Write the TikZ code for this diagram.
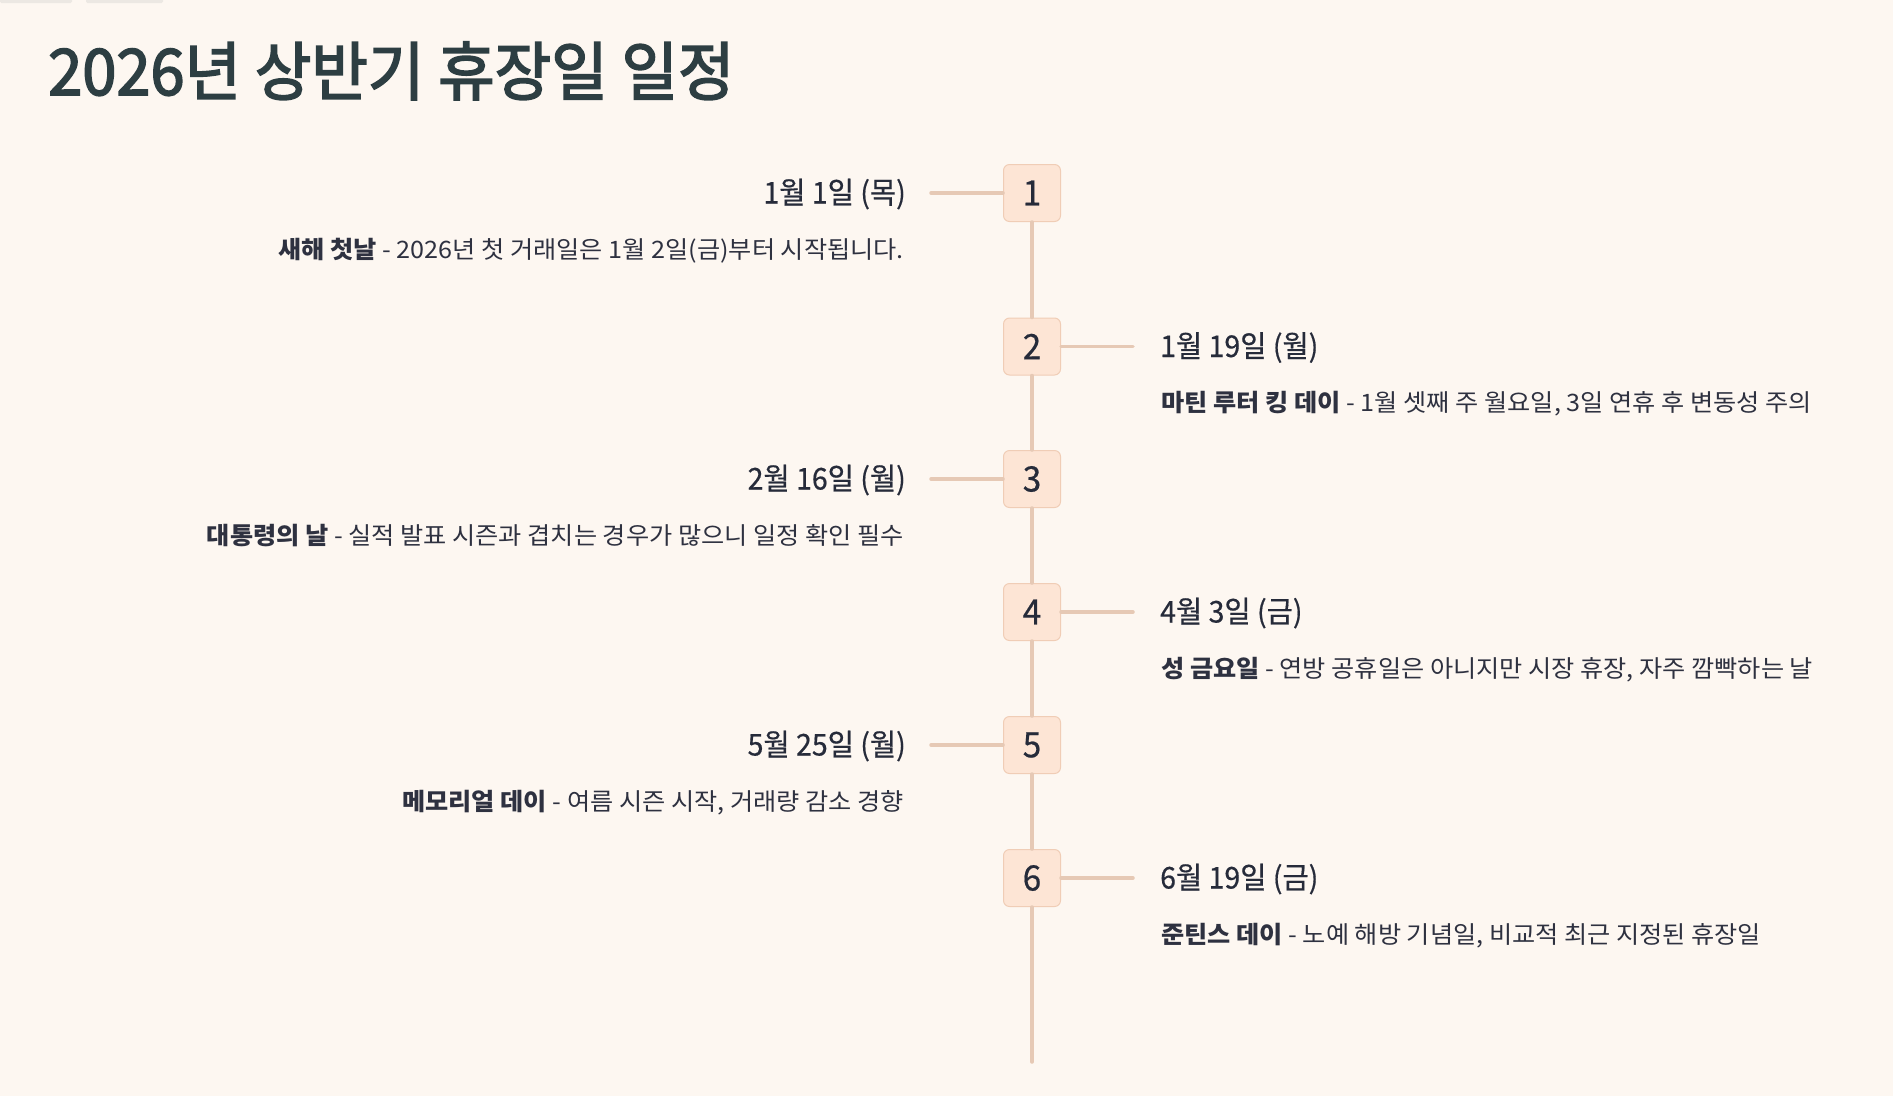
\documentclass[tikz,border=0pt]{standalone}
\usepackage{fontspec}
\newfontfamily\kr{Noto Sans CJK KR}
\newfontfamily\krdesc[FakeStretch=1.05]{Noto Sans CJK KR}
\newfontfamily\krtitle[FakeStretch=0.96,FakeBold=2.5]{Noto Sans CJK KR}
\newfontfamily\krdate[FakeStretch=0.95,FakeBold=0.5]{Noto Sans CJK KR}
\definecolor{bg}{HTML}{FDF7F1}
\definecolor{titlec}{HTML}{2D3E42}
\definecolor{datec}{HTML}{262B3A}
\definecolor{descc}{HTML}{2E3140}
\definecolor{boxfill}{HTML}{FDE5D5}
\definecolor{boxline}{HTML}{F0CDB6}
\definecolor{linec}{HTML}{E6C9B5}
\definecolor{tabc}{HTML}{ECE8E3}
\tikzset{
  numbox/.style={draw=boxline, line width=1pt, fill=boxfill, rounded corners=6pt,
    minimum width=57pt, minimum height=57pt, inner sep=0pt, text=datec,
    font=\krdate\fontsize{35pt}{35pt}\selectfont},
  datel/.style={anchor=base east, inner sep=0pt, text=datec, font=\krdate\fontsize{30pt}{30pt}\selectfont},
  dater/.style={anchor=base west, inner sep=0pt, text=datec, font=\krdate\fontsize{30pt}{30pt}\selectfont},
  descl/.style={anchor=base east, inner sep=0pt, text=descc, font=\krdesc\fontsize{24pt}{24pt}\selectfont},
  descr/.style={anchor=base west, inner sep=0pt, text=descc, font=\krdesc\fontsize{24pt}{24pt}\selectfont},
  conn/.style={draw=linec, line width=3.5pt, line cap=round},
}
\begin{document}
\begin{tikzpicture}[x=1pt,y=-1pt]
\fill[bg] (0,0) rectangle (1893,1096);
\useasboundingbox (0,0) rectangle (1893,1096);
\fill[tabc, rounded corners=1.5pt] (0,-3) rectangle (72,3);
\fill[tabc, rounded corners=1.5pt] (86,-3) rectangle (163,3);
\node[anchor=base west, inner sep=0pt, text=titlec, font=\krtitle\fontsize{64pt}{64pt}\selectfont] (title) at (48,95) {2026년 상반기 휴장일 일정};
% boxes
\node[numbox] (b1) at (1032,193) {1};
\node[numbox] (b2) at (1032,346.5) {2};
\node[numbox] (b3) at (1032,479) {3};
\node[numbox] (b4) at (1032,612) {4};
\node[numbox] (b5) at (1032,745) {5};
\node[numbox] (b6) at (1032,878) {6};
\coordinate (end) at (1032,1062);
\coordinate (l1) at (931,193);
\coordinate (r2) at (1133,346.5);
\coordinate (l3) at (931,479);
\coordinate (r4) at (1133,612);
\coordinate (l5) at (931,745);
\coordinate (r6) at (1133,878);
% connectors
\draw[conn] (b1.south) -- (b2.north);
\draw[conn] (b2.south) -- (b3.north);
\draw[conn] (b3.south) -- (b4.north);
\draw[conn] (b4.south) -- (b5.north);
\draw[conn] (b5.south) -- (b6.north);
\draw[conn] (b6.south) -- (end);
\draw[conn] (l1) -- (b1.west);
\draw[conn] (b2.east) -- (r2);
\draw[conn] (l3) -- (b3.west);
\draw[conn] (b4.east) -- (r4);
\draw[conn] (l5) -- (b5.west);
\draw[conn] (b6.east) -- (r6);
% texts
\node[datel] (d1) at (906,203.5) {1월 1일 (목)};
\node[descl] (t1) at (904,258) {\textbf{새해 첫날} - 2026년 첫 거래일은 1월 2일(금)부터 시작됩니다.};
\node[dater] (d2) at (1160,357) {1월 19일 (월)};
\node[descr] (t2) at (1161,411.5) {\textbf{마틴 루터 킹 데이} - 1월 셋째 주 월요일, 3일 연휴 후 변동성 주의};
\node[datel] (d3) at (906,489.5) {2월 16일 (월)};
\node[descl] (t3) at (904,544) {\textbf{대통령의 날} - 실적 발표 시즌과 겹치는 경우가 많으니 일정 확인 필수};
\node[dater] (d4) at (1160,622.5) {4월 3일 (금)};
\node[descr] (t4) at (1161,677) {\textbf{성 금요일} - 연방 공휴일은 아니지만 시장 휴장, 자주 깜빡하는 날};
\node[datel] (d5) at (906,755.5) {5월 25일 (월)};
\node[descl] (t5) at (904,810) {\textbf{메모리얼 데이} - 여름 시즌 시작, 거래량 감소 경향};
\node[dater] (d6) at (1160,888.5) {6월 19일 (금)};
\node[descr] (t6) at (1161,943) {\textbf{준틴스 데이} - 노예 해방 기념일, 비교적 최근 지정된 휴장일};
\end{tikzpicture}
\end{document}
